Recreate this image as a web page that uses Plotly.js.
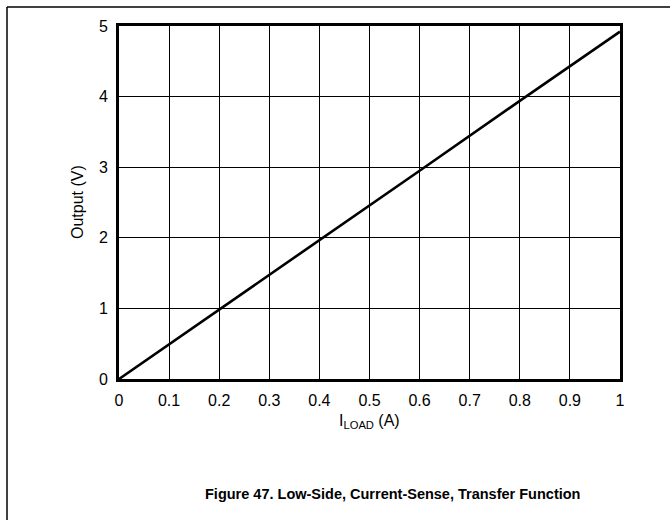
<!DOCTYPE html>
<html>
<head>
<meta charset="utf-8">
<script src="https://cdn.plot.ly/plotly-3.0.1.min.js"></script>
<style>html,body{margin:0;padding:0;background:#fff;}#chart{width:670px;height:520px;}</style>
</head>
<body>
<div id="chart"></div>
<script>
const loadCurrent = [0, 0.2, 0.4, 0.6, 0.8, 1.0];
const outputVolts = [0, 0.98, 1.97, 2.95, 3.94, 4.92];
const xTicks = [0, 0.1, 0.2, 0.3, 0.4, 0.5, 0.6, 0.7, 0.8, 0.9, 1];
const yTicks = [0, 1, 2, 3, 4, 5];
const xTitle = 'I<sub>LOAD</sub> (A)';
const yTitle = 'Output (V)';
const caption = '<b>Figure 47. Low-Side, Current-Sense, Transfer Function</b>';

const L = 119, R = 50, T = 26, B = 141, W = 670, H = 520;
const pw = W - L - R, ph = H - T - B;
const px = v => (v - L) / pw;
const py = v => (H - B - v) / ph;

const trace = {
  x: loadCurrent, y: outputVolts, type: 'scatter', mode: 'lines',
  line: {color: '#000', width: 2.6}, hoverinfo: 'skip'
};
const fam = 'Liberation Sans, Arial, sans-serif';
const font = {family: fam, size: 16, color: '#000'};
const layout = {
  width: W, height: H,
  margin: {l: L, r: R, t: T, b: B, pad: 0},
  paper_bgcolor: '#fff', plot_bgcolor: '#fff',
  font: font, showlegend: false,
  xaxis: {
    range: [0, 1], tickvals: xTicks, ticktext: xTicks.map(String),
    showgrid: true, gridcolor: '#000', gridwidth: 1,
    showline: true, linecolor: '#000', linewidth: 2.8, mirror: true,
    zeroline: false, ticks: '', ticklen: 0, ticklabelstandoff: 5,
    tickfont: font, fixedrange: true
  },
  yaxis: {
    range: [0, 5], tickvals: yTicks, ticktext: yTicks.map(String),
    showgrid: true, gridcolor: '#000', gridwidth: 1,
    showline: true, linecolor: '#000', linewidth: 2.8, mirror: true,
    zeroline: false, ticks: '', ticklen: 0, ticklabelstandoff: 5,
    tickfont: font, fixedrange: true
  },
  shapes: [
    {type: 'line', xref: 'paper', yref: 'paper', x0: px(7), x1: px(670), y0: py(7), y1: py(7), line: {color: '#000', width: 1.5}},
    {type: 'line', xref: 'paper', yref: 'paper', x0: px(7), x1: px(7), y0: py(7), y1: py(520), line: {color: '#000', width: 1.5}}
  ],
  annotations: [
    {text: xTitle, xref: 'paper', yref: 'paper', x: px(369), y: py(421), showarrow: false,
     xanchor: 'center', yanchor: 'middle', font: font},
    {text: yTitle, xref: 'paper', yref: 'paper', x: px(77), y: py(202), showarrow: false, textangle: -90,
     xanchor: 'center', yanchor: 'middle', font: font},
    {text: caption, xref: 'paper', yref: 'paper', x: px(392), y: py(494), showarrow: false,
     xanchor: 'center', yanchor: 'middle', font: {family: fam, size: 14.5, color: '#000'}}
  ]
};
Plotly.newPlot('chart', [trace], layout, {displayModeBar: false, staticPlot: true});
</script>
</body>
</html>
